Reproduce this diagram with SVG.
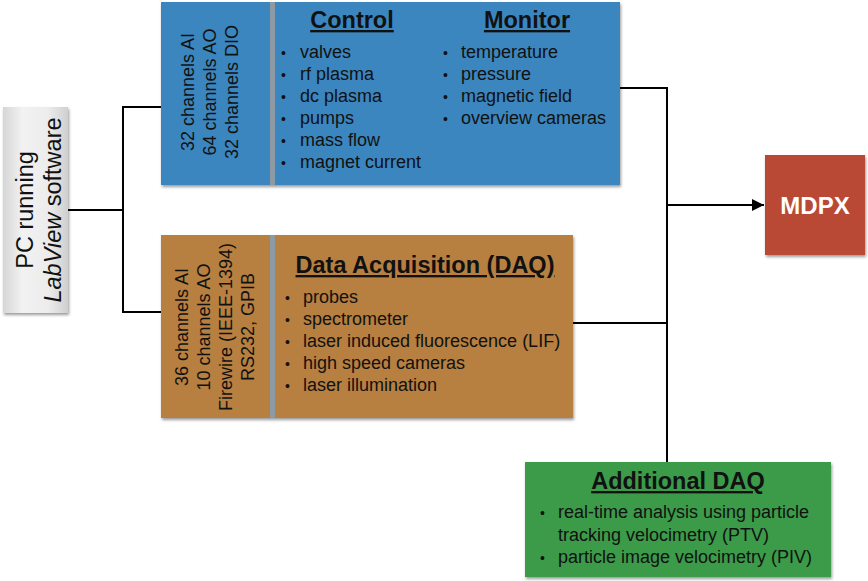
<svg xmlns="http://www.w3.org/2000/svg" width="868" height="581" viewBox="0 0 868 581">
<defs>
<linearGradient id="pcg" x1="0" y1="0" x2="1" y2="0">
<stop offset="0" stop-color="#d6d6d6"/>
<stop offset="0.3" stop-color="#f2f2f2"/>
<stop offset="0.7" stop-color="#ececec"/>
<stop offset="1" stop-color="#cfcfcf"/>
</linearGradient>
<filter id="sh" x="-10%" y="-10%" width="120%" height="120%">
<feGaussianBlur in="SourceAlpha" stdDeviation="1.5"/>
<feOffset dx="1" dy="2" result="b"/>
<feComponentTransfer><feFuncA type="linear" slope="0.4"/></feComponentTransfer>
<feMerge><feMergeNode/><feMergeNode in="SourceGraphic"/></feMerge>
</filter>
<marker id="arr" viewBox="0 0 10 10" refX="10" refY="5" markerWidth="6" markerHeight="6" markerUnits="strokeWidth" orient="auto">
<path d="M0,0 L10,5 L0,10 z" fill="#000"/>
</marker>
</defs>
<style>
text{font-family:"Liberation Sans",Arial,sans-serif;fill:#111;}
.t{font-size:18px;}
.h{font-size:23.5px;font-weight:bold;text-decoration:underline;text-anchor:middle;}
.v{font-size:18px;text-anchor:middle;}
.c{stroke:#000;stroke-width:2;fill:none;}
.div{fill:#8c9aa6;}
</style>
<rect width="868" height="581" fill="#fff"/>
<g id="connectors">
<polyline class="c" points="68,210 123,210"/>
<polyline class="c" points="161,107 123,107 123,312 161,312"/>
<polyline class="c" points="620,88 667,88 667,462"/>
<polyline class="c" points="573,323 667,323"/>
<line class="c" x1="667" y1="205" x2="764" y2="205" marker-end="url(#arr)"/>
</g>
<g id="pc">
<rect x="3" y="107" width="65" height="206" fill="url(#pcg)" filter="url(#sh)"/>
<text transform="translate(33,210) rotate(-90)" font-size="23.5" text-anchor="middle">PC running</text>
<text transform="translate(61,210) rotate(-90)" font-size="23.5" text-anchor="middle"><tspan font-style="italic">LabView</tspan> software</text>
</g>
<g id="control-monitor">
<rect x="161" y="2" width="459" height="183" fill="#3b86bf" filter="url(#sh)"/>
<rect class="div" x="270" y="2" width="5" height="183"/>
<text class="v" transform="translate(194,92) rotate(-90)">32 channels AI</text>
<text class="v" transform="translate(216,92) rotate(-90)">64 channels AO</text>
<text class="v" transform="translate(238,92) rotate(-90)">32 channels DIO</text>
<text class="h" x="352" y="28">Control</text>
<text class="h" x="527" y="28">Monitor</text>
<g class="t">
<text x="281" y="58" font-size="14">•</text><text x="300" y="58" class="t">valves</text>
<text x="281" y="80" font-size="14">•</text><text x="300" y="80" class="t">rf plasma</text>
<text x="281" y="102" font-size="14">•</text><text x="300" y="102" class="t">dc plasma</text>
<text x="281" y="124" font-size="14">•</text><text x="300" y="124" class="t">pumps</text>
<text x="281" y="146" font-size="14">•</text><text x="300" y="146" class="t">mass flow</text>
<text x="281" y="168" font-size="14">•</text><text x="300" y="168" class="t">magnet current</text>
<text x="443" y="58" font-size="14">•</text><text x="461" y="58" class="t">temperature</text>
<text x="443" y="80" font-size="14">•</text><text x="461" y="80" class="t">pressure</text>
<text x="443" y="102" font-size="14">•</text><text x="461" y="102" class="t">magnetic field</text>
<text x="443" y="124" font-size="14">•</text><text x="461" y="124" class="t">overview cameras</text>
</g>
</g>
<g id="daq">
<rect x="161" y="235" width="412" height="183" fill="#b77f40" filter="url(#sh)"/>
<rect class="div" x="270" y="235" width="5" height="183"/>
<text class="v" transform="translate(188,327) rotate(-90)">36 channels AI</text>
<text class="v" transform="translate(210,327) rotate(-90)">10 channels AO</text>
<text class="v" transform="translate(232,327) rotate(-90)">Firewire (IEEE-1394)</text>
<text class="v" transform="translate(254,327) rotate(-90)">RS232, GPIB</text>
<text class="h" x="425" y="273" font-size="24">Data Acquisition (DAQ)</text>
<text x="285" y="303" font-size="14">•</text><text x="303" y="303" class="t">probes</text>
<text x="285" y="325" font-size="14">•</text><text x="303" y="325" class="t">spectrometer</text>
<text x="285" y="347" font-size="14">•</text><text x="303" y="347" class="t">laser induced fluorescence (LIF)</text>
<text x="285" y="369" font-size="14">•</text><text x="303" y="369" class="t">high speed cameras</text>
<text x="285" y="391" font-size="14">•</text><text x="303" y="391" class="t">laser illumination</text>
</g>
<g id="mdpx">
<rect x="765" y="155" width="100" height="100" fill="#b94a35" filter="url(#sh)"/>
<text x="815" y="214" font-size="24" font-weight="bold" text-anchor="middle" style="fill:#fff">MDPX</text>
</g>
<g id="additional-daq">
<rect x="525" y="462" width="306" height="115" fill="#3a9b48" filter="url(#sh)"/>
<text class="h" x="678" y="489" font-size="24">Additional DAQ</text>
<text x="540" y="518" font-size="14">•</text><text x="558" y="518" class="t">real-time analysis using particle</text>
<text x="558" y="541" class="t">tracking velocimetry (PTV)</text>
<text x="540" y="563" font-size="14">•</text><text x="558" y="563" class="t">particle image velocimetry (PIV)</text>
</g>
</svg>
